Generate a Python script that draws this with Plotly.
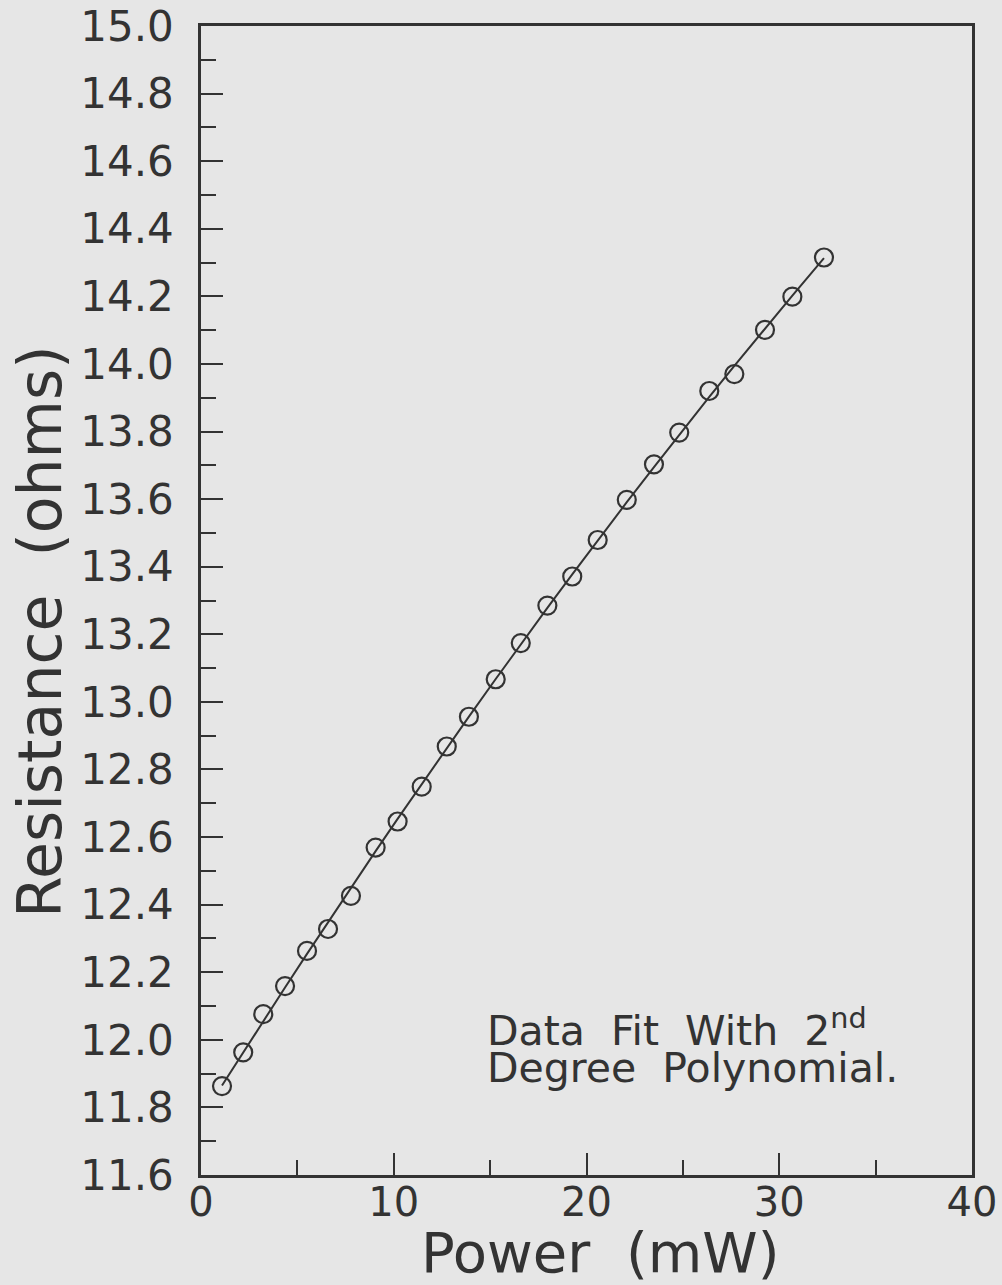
import numpy as np
import plotly.graph_objects as go

# Data
power_mw = [1.09, 2.19, 3.23, 4.36, 5.50, 6.59, 7.78, 9.06, 10.20, 11.45, 12.75, 13.90,
            15.29, 16.59, 17.97, 19.26, 20.58, 22.09, 23.50, 24.81, 26.37, 27.67, 29.26,
            30.68, 32.32]
resistance_ohms = [11.863, 11.963, 12.076, 12.159, 12.263, 12.328, 12.426, 12.569, 12.646,
                   12.749, 12.868, 12.956, 13.067, 13.174, 13.285, 13.371, 13.479, 13.598,
                   13.703, 13.797, 13.920, 13.970, 14.101, 14.199, 14.315]
x_ticks = [0, 10, 20, 30, 40]
y_ticks = [11.6, 11.8, 12.0, 12.2, 12.4, 12.6, 12.8, 13.0, 13.2, 13.4, 13.6, 13.8,
           14.0, 14.2, 14.4, 14.6, 14.8, 15.0]

INK = "#333333"
BG = "#e6e6e6"
FONT = "DejaVu Sans"

# 2nd degree polynomial fit of the data
coef = np.polyfit(power_mw, resistance_ohms, 2)
fit_y = np.polyval(coef, power_mw)

fig = go.Figure()
fig.add_trace(go.Scatter(x=power_mw, y=fit_y, mode="lines",
                         line=dict(color=INK, width=2), hoverinfo="skip"))
fig.add_trace(go.Scatter(x=power_mw, y=resistance_ohms, mode="markers",
                         marker=dict(symbol="circle-open", size=18, color=INK,
                                     line=dict(width=2.2, color=INK))))

fig.update_layout(
    width=1002, height=1285,
    margin=dict(l=201, r=30, t=26, b=110, autoexpand=False),
    paper_bgcolor=BG, plot_bgcolor=BG,
    showlegend=False,
    font=dict(family=FONT, color=INK, size=40),
)
fig.update_xaxes(
    range=[0, 40], tickvals=x_ticks, ticktext=[str(v) for v in x_ticks],
    ticks="inside", ticklen=22, tickwidth=2, tickcolor=INK,
    minor=dict(dtick=5, tick0=0, ticks="inside", ticklen=15, tickwidth=2, tickcolor=INK),
    showline=True, linewidth=2.5, linecolor=INK, mirror=True,
    showgrid=False, zeroline=False, automargin=False,
    tickfont=dict(size=40, family=FONT, color=INK), ticklabelstandoff=-10,
)
fig.update_yaxes(
    range=[11.6, 15.0], tickvals=y_ticks, ticktext=[f"{v:.1f}" for v in y_ticks],
    ticks="inside", ticklen=22, tickwidth=2, tickcolor=INK,
    minor=dict(dtick=0.1, tick0=11.6, ticks="inside", ticklen=15, tickwidth=2, tickcolor=INK),
    showline=True, linewidth=2.5, linecolor=INK, mirror=True,
    showgrid=False, zeroline=False, automargin=False,
    tickfont=dict(size=42, family=FONT, color=INK), ticklabelstandoff=16,
)

# Axis titles as annotations for precise placement
fig.add_annotation(text="Power  (mW)", xref="paper", yref="paper",
                   x=(600 - 201) / 771, y=-(1252 - 1175) / 1149,
                   xanchor="center", yanchor="middle", showarrow=False,
                   font=dict(size=56, family=FONT, color=INK))
fig.add_annotation(text="Resistance  (ohms)", xref="paper", yref="paper",
                   x=-(201 - 40) / 771, y=(1175 - 632) / 1149, textangle=-90,
                   xanchor="center", yanchor="middle", showarrow=False,
                   font=dict(size=60, family=FONT, color=INK))

# In-plot note
fig.add_annotation(text="Data  Fit  With  2<sup>nd</sup>", xref="x", yref="y",
                   x=14.75, y=11.6 + (1175 - 1028) / 337.9,
                   xanchor="left", yanchor="middle", showarrow=False,
                   font=dict(size=41, family=FONT, color=INK))
fig.add_annotation(text="Degree  Polynomial.", xref="x", yref="y",
                   x=14.75, y=11.6 + (1175 - 1068) / 337.9,
                   xanchor="left", yanchor="middle", showarrow=False,
                   font=dict(size=41, family=FONT, color=INK))

fig.write_html("out.html", config={"displayModeBar": False},
               post_script="document.body.style.margin='0';")
